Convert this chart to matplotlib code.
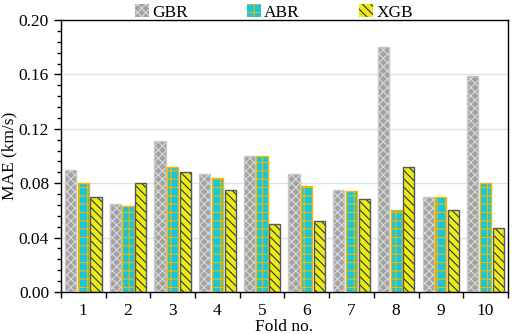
import numpy as np
import matplotlib.pyplot as plt
from matplotlib.patches import Patch
from matplotlib.ticker import MultipleLocator

plt.rcParams['font.family'] = ['Liberation Serif', 'DejaVu Serif']
plt.rcParams['hatch.linewidth'] = 0.8

folds = ['1', '2', '3', '4', '5', '6', '7', '8', '9', '10']
gbr = [0.090, 0.065, 0.111, 0.087, 0.100, 0.087, 0.075, 0.180, 0.070, 0.159]
abr = [0.080, 0.063, 0.092, 0.084, 0.100, 0.078, 0.074, 0.060, 0.070, 0.080]
xgb = [0.070, 0.080, 0.088, 0.075, 0.050, 0.052, 0.068, 0.092, 0.060, 0.047]

series = [
    ('GBR', gbr, '#a2a2a2', '#dadada', 'xxxx', '#c8c8c8'),
    ('ABR', abr, '#16c6dc', '#f2b800', '++', '#f2b800'),
    ('XGB', xgb, '#ecec10', '#303040', '\\\\\\\\', '#505868'),
]

fig = plt.figure(figsize=(5.12, 3.34), dpi=100)
ax = fig.add_axes([0.119, 0.126, 0.873, 0.814])

x = np.arange(len(folds))
w = 0.25
offs = [-0.285, 0.0, 0.285]
handles = []
for (name, vals, fc, hc, hatch, ec), off in zip(series, offs):
    ax.bar(x + off, vals, w, color=fc, edgecolor=hc, hatch=hatch, linewidth=0, zorder=2)
    ax.bar(x + off, vals, w, color='none', edgecolor=ec, linewidth=1.0, zorder=3)
    handles.append(Patch(facecolor=fc, edgecolor=hc, hatch=hatch, linewidth=0, label=name))

ax.set_xlim(-0.5, len(folds) - 0.5)
ax.set_ylim(0, 0.2)
ax.set_xticks(x)
ax.set_xticklabels(folds)
ax.set_xticks(np.arange(len(folds) + 1) - 0.5, minor=True)
ax.tick_params(axis='x', which='major', length=0, pad=8, labelsize=12.5)
ax.tick_params(axis='x', which='minor', length=4, width=1, direction='out')
ax.yaxis.set_major_locator(MultipleLocator(0.04))
ax.yaxis.set_minor_locator(MultipleLocator(0.008))
ax.yaxis.set_major_formatter(plt.FormatStrFormatter('%.2f'))
ax.tick_params(axis='y', which='major', length=5, width=1, labelsize=12.5)
ax.tick_params(axis='y', which='minor', length=3, width=1)
ax.grid(axis='y', color='#dde3ec', linewidth=1, zorder=0)
for s in ax.spines.values():
    s.set_linewidth(1.0)
ax.set_xlabel('Fold no.', fontsize=12.5, labelpad=0)
ax.set_ylabel('MAE (km/s)', fontsize=12.5, labelpad=1)

fig.legend(handles=handles, loc='upper center', bbox_to_anchor=(0.535, 1.035), ncol=3,
           frameon=False, fontsize=12.5, handlelength=0.8, handleheight=0.8,
           handletextpad=0.2, columnspacing=3.4)

fig.savefig('out.png', dpi=100)
